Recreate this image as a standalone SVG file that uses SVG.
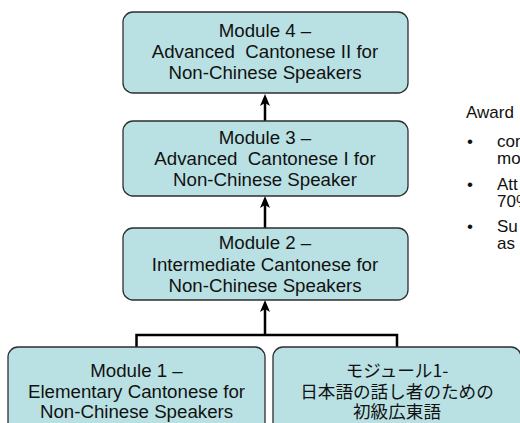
<svg xmlns="http://www.w3.org/2000/svg" width="520" height="423" viewBox="0 0 520 423">
<defs>
<style>
.box{fill:#b9e1e4;stroke:#2e2e2e;stroke-width:1.3}
.t{font-family:"Liberation Sans",Arial,sans-serif;font-size:18.7px;fill:#111;text-anchor:middle}
.j{font-family:"Noto Sans CJK JP",sans-serif;font-size:17.6px;fill:#111;text-anchor:middle}
.r{font-family:"Liberation Sans",Arial,sans-serif;font-size:17px;fill:#111}
.c{fill:none;stroke:#000;stroke-width:2.5}
</style>
<marker id="ah" viewBox="0 0 12 10" refX="6" refY="5" markerWidth="12" markerHeight="10" markerUnits="userSpaceOnUse" orient="auto">
<path d="M0,0 L12,5 L0,10 L3,5 z" fill="#000"/>
</marker>
</defs>
<rect width="520" height="423" fill="#fff"/>
<g id="connectors">
<line class="c" x1="265" y1="121" x2="265" y2="100" marker-end="url(#ah)"/>
<line class="c" x1="265" y1="228" x2="265" y2="202" marker-end="url(#ah)"/>
<line class="c" x1="265" y1="335" x2="265" y2="306" marker-end="url(#ah)"/>
<path class="c" d="M136.5,347 V335 H397 V347"/>
</g>
<g id="module4">
<rect class="box" x="123" y="12" width="285" height="81" rx="10"/>
<text class="t" x="265" y="37">Module 4 –</text>
<text class="t" x="265" y="58" xml:space="preserve">Advanced  Cantonese II for</text>
<text class="t" x="265" y="79">Non-Chinese Speakers</text>
</g>
<g id="module3">
<rect class="box" x="123" y="121" width="285" height="75" rx="10"/>
<text class="t" x="265" y="144">Module 3 –</text>
<text class="t" x="265" y="165" xml:space="preserve">Advanced  Cantonese I for</text>
<text class="t" x="265" y="186">Non-Chinese Speaker</text>
</g>
<g id="module2">
<rect class="box" x="123" y="228" width="285" height="72" rx="10"/>
<text class="t" x="265" y="249">Module 2 –</text>
<text class="t" x="265" y="271">Intermediate Cantonese for</text>
<text class="t" x="265" y="292">Non-Chinese Speakers</text>
</g>
<g id="module1">
<rect class="box" x="8" y="347" width="257" height="90" rx="10"/>
<text class="t" x="136.5" y="377">Module 1 –</text>
<text class="t" x="136.5" y="397.5">Elementary Cantonese for</text>
<text class="t" x="136.5" y="418">Non-Chinese Speakers</text>
</g>
<g id="module1-jp">
<rect class="box" x="273" y="347" width="248" height="90" rx="10"/>
<text class="j" x="397" y="377">モジュール1-</text>
<text class="j" x="397" y="398">日本語の話し者のための</text>
<text class="j" x="397" y="418">初級広東語</text>
</g>
<g id="award">
<text class="r" x="466" y="118">Award</text>
<text class="r" x="467" y="147">•</text>
<text class="r" x="497" y="147">com</text>
<text class="r" x="497" y="164">mo</text>
<text class="r" x="467" y="190">•</text>
<text class="r" x="497" y="190">Att</text>
<text class="r" x="497" y="207">70%</text>
<text class="r" x="467" y="232">•</text>
<text class="r" x="497" y="232">Su</text>
<text class="r" x="497" y="249">as</text>
</g>
</svg>
